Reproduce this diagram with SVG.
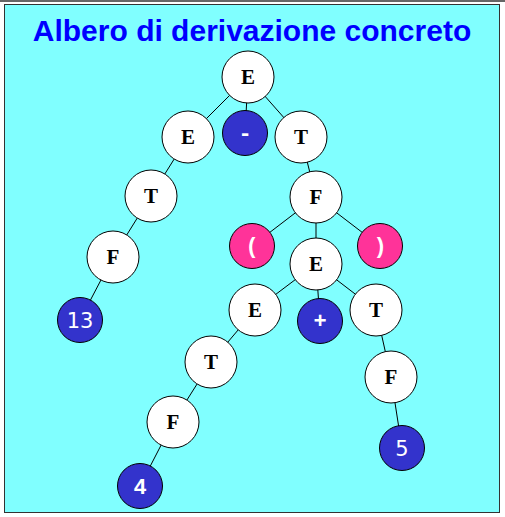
<svg xmlns="http://www.w3.org/2000/svg" width="505" height="517" viewBox="0 0 505 517">
<style>
.w{fill:#fff;stroke:#000;stroke-width:1}
.b{fill:#3333cc;stroke:#000;stroke-width:1}
.p{fill:#ff3399;stroke:#000;stroke-width:1}
.t{font-family:"Liberation Serif",serif;font-weight:bold;font-size:21px;text-anchor:middle;fill:#000}
.tw{font-family:"Liberation Mono",monospace;font-weight:bold;font-size:22px;text-anchor:middle;fill:#fff}
.ts{font-family:"DejaVu Sans",sans-serif;font-size:21px;text-anchor:middle;fill:#fff}
</style>
<rect x="0" y="0" width="505" height="517" fill="#fff"/>
<line x1="0" y1="1" x2="505" y2="1" stroke="#666" stroke-width="2"/>
<rect x="4.5" y="4.5" width="495" height="508" fill="#80ffff" stroke="#333" stroke-width="1"/>
<text x="252" y="41" font-family="Liberation Sans,Arial,sans-serif" font-weight="bold" font-size="30" fill="#0000ff" text-anchor="middle">Albero di derivazione concreto</text>
<g id="connectors" stroke="#000" stroke-width="1">
<line x1="248" y1="77" x2="188" y2="137"/>
<line x1="248" y1="77" x2="245" y2="133"/>
<line x1="248" y1="77" x2="301" y2="137"/>
<line x1="188" y1="137" x2="151" y2="196"/>
<line x1="151" y1="196" x2="113" y2="257"/>
<line x1="113" y1="257" x2="80" y2="320"/>
<line x1="301" y1="137" x2="316" y2="197"/>
<line x1="316" y1="197" x2="252" y2="246"/>
<line x1="316" y1="197" x2="316" y2="264"/>
<line x1="316" y1="197" x2="380" y2="246"/>
<line x1="316" y1="264" x2="255" y2="310"/>
<line x1="316" y1="264" x2="320" y2="321"/>
<line x1="316" y1="264" x2="376" y2="310"/>
<line x1="255" y1="310" x2="211" y2="362"/>
<line x1="211" y1="362" x2="173" y2="422"/>
<line x1="173" y1="422" x2="140" y2="486"/>
<line x1="376" y1="310" x2="391" y2="377"/>
<line x1="391" y1="377" x2="402" y2="448"/>
</g>
<g id="n1"><circle class="w" cx="248" cy="77" r="26"/><text class="t" x="248" y="84">E</text></g>
<g id="n2"><circle class="w" cx="188" cy="137" r="26"/><text class="t" x="188" y="144">E</text></g>
<g id="n3"><circle class="b" cx="245" cy="133" r="22.5"/><text class="tw" x="245" y="140">-</text></g>
<g id="n4"><circle class="w" cx="301" cy="137" r="26"/><text class="t" x="301" y="144">T</text></g>
<g id="n5"><circle class="w" cx="151" cy="196" r="26"/><text class="t" x="151" y="203">T</text></g>
<g id="n6"><circle class="w" cx="316" cy="197" r="26"/><text class="t" x="316" y="204">F</text></g>
<g id="n7"><circle class="w" cx="113" cy="257" r="26"/><text class="t" x="113" y="264">F</text></g>
<g id="n8"><circle class="p" cx="252" cy="246" r="22.5"/><text class="tw" x="252" y="253">(</text></g>
<g id="n9"><circle class="w" cx="316" cy="264" r="26"/><text class="t" x="316" y="271">E</text></g>
<g id="n10"><circle class="p" cx="380" cy="246" r="22.5"/><text class="tw" x="380" y="253">)</text></g>
<g id="n11"><circle class="b" cx="80" cy="320" r="22.5"/><text class="ts" x="80" y="328">13</text></g>
<g id="n12"><circle class="w" cx="255" cy="310" r="26"/><text class="t" x="255" y="317">E</text></g>
<g id="n13"><circle class="b" cx="320" cy="321" r="22.5"/><text class="tw" x="320" y="328">+</text></g>
<g id="n14"><circle class="w" cx="376" cy="310" r="26"/><text class="t" x="376" y="317">T</text></g>
<g id="n15"><circle class="w" cx="211" cy="362" r="26"/><text class="t" x="211" y="369">T</text></g>
<g id="n16"><circle class="w" cx="391" cy="377" r="26"/><text class="t" x="391" y="384">F</text></g>
<g id="n17"><circle class="w" cx="173" cy="422" r="26"/><text class="t" x="173" y="429">F</text></g>
<g id="n18"><circle class="b" cx="402" cy="448" r="22.5"/><text class="ts" x="402" y="456">5</text></g>
<g id="n19"><circle class="b" cx="140" cy="486" r="22.5"/><text class="tw" x="140" y="494">4</text></g>
</svg>
